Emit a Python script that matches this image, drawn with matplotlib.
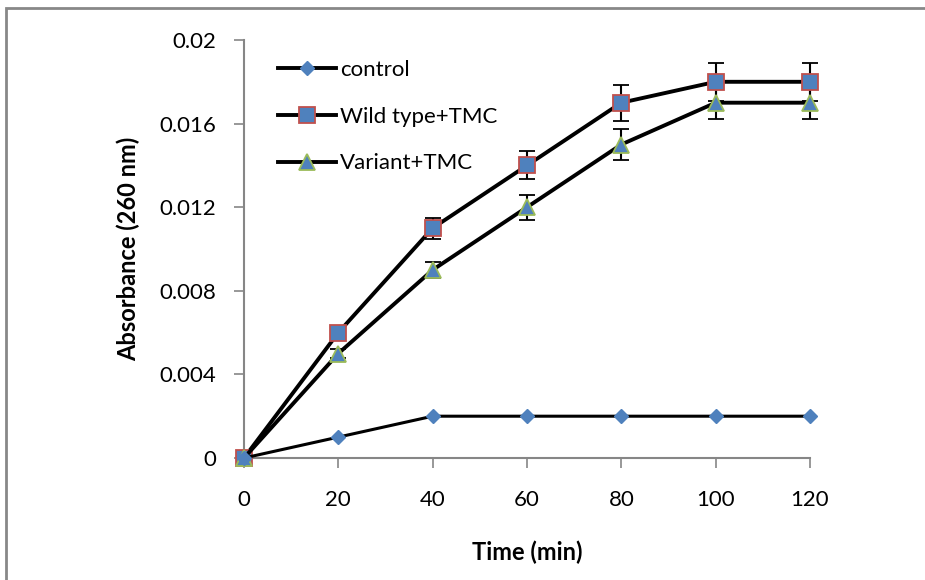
import matplotlib
matplotlib.use('Agg')
from matplotlib import pyplot as plt
from matplotlib.patches import Rectangle
from matplotlib.lines import Line2D

time_min = [0, 20, 40, 60, 80, 100, 120]
control = [0, 0.001, 0.002, 0.002, 0.002, 0.002, 0.002]
wild_tmc = [0, 0.006, 0.011, 0.014, 0.017, 0.018, 0.018]
wild_err = [0, 0, 0.0005, 0.00067, 0.00086, 0.0009, 0.0009]
variant_tmc = [0, 0.005, 0.009, 0.012, 0.015, 0.017, 0.017]
variant_err = [0, 0.0002, 0.0004, 0.0006, 0.00074, 0.0008, 0.0008]

plt.rcParams['font.family'] = ['Lato', 'DejaVu Sans']

fig = plt.figure(figsize=(9.25, 5.8), dpi=100)
ax = fig.add_axes([244 / 925, 1 - 458 / 580, (810 - 244) / 925, (458 - 40) / 580])

# grey outer frame of the chart area
fig.patches.append(Rectangle((6 / 925, -0.1), 1.2, 1 - 8 / 580 + 0.1,
                             transform=fig.transFigure, fill=False,
                             edgecolor='#888888', linewidth=2))

blue = '#4F81BD'
wt_style = dict(color='black', linewidth=2.8, marker='s', markersize=11,
                markerfacecolor=blue, markeredgecolor='#C0504D', markeredgewidth=1.3)
var_style = dict(color='black', linewidth=2.8, marker='^', markersize=11,
                 markerfacecolor=blue, markeredgecolor='#9BBB59', markeredgewidth=1.3)
ctl_style = dict(color='black', linewidth=2.2, marker='D', markersize=7,
                 markerfacecolor=blue, markeredgecolor=blue)

for y, err, style in [(wild_tmc, wild_err, wt_style), (variant_tmc, variant_err, var_style)]:
    ax.errorbar(time_min, y, yerr=err, ecolor='black', elinewidth=1.5,
                capsize=6, capthick=2, zorder=3, clip_on=False, **style)
ax.plot(time_min, control, zorder=4, clip_on=False, **ctl_style)

ax.set_xlim(0, 120)
ax.set_ylim(0, 0.02)
ax.set_xticks(time_min)
ax.set_yticks([0, 0.004, 0.008, 0.012, 0.016, 0.02])
ax.set_yticklabels(['0', '0.004', '0.008', '0.012', '0.016', '0.02'])
ax.tick_params(axis='both', labelsize=16, color='#868686', length=7, width=1.2)
ax.tick_params(axis='y', pad=13)
ax.tick_params(axis='x', pad=16)

for side in ['top', 'right']:
    ax.spines[side].set_visible(False)
for side in ['left', 'bottom']:
    ax.spines[side].set_color('#868686')
    ax.spines[side].set_linewidth(1.5)

ax.set_xlabel('Time (min)', fontsize=17, fontweight='bold', labelpad=22)
ax.set_ylabel('Absorbance (260 nm)', fontsize=17, fontweight='bold', labelpad=14)

handles = [Line2D([], [], **dict(ctl_style, linewidth=2.8)),
           Line2D([], [], **wt_style),
           Line2D([], [], **var_style)]
labels = ['control', 'Wild type+TMC', 'Variant+TMC']
ax.legend(handles, labels, loc='upper left', bbox_to_anchor=(0.025, 1.0),
          frameon=False, fontsize=16, labelspacing=1.2, handlelength=2.6,
          handletextpad=0.2)

fig.savefig('out.png', dpi=100)
